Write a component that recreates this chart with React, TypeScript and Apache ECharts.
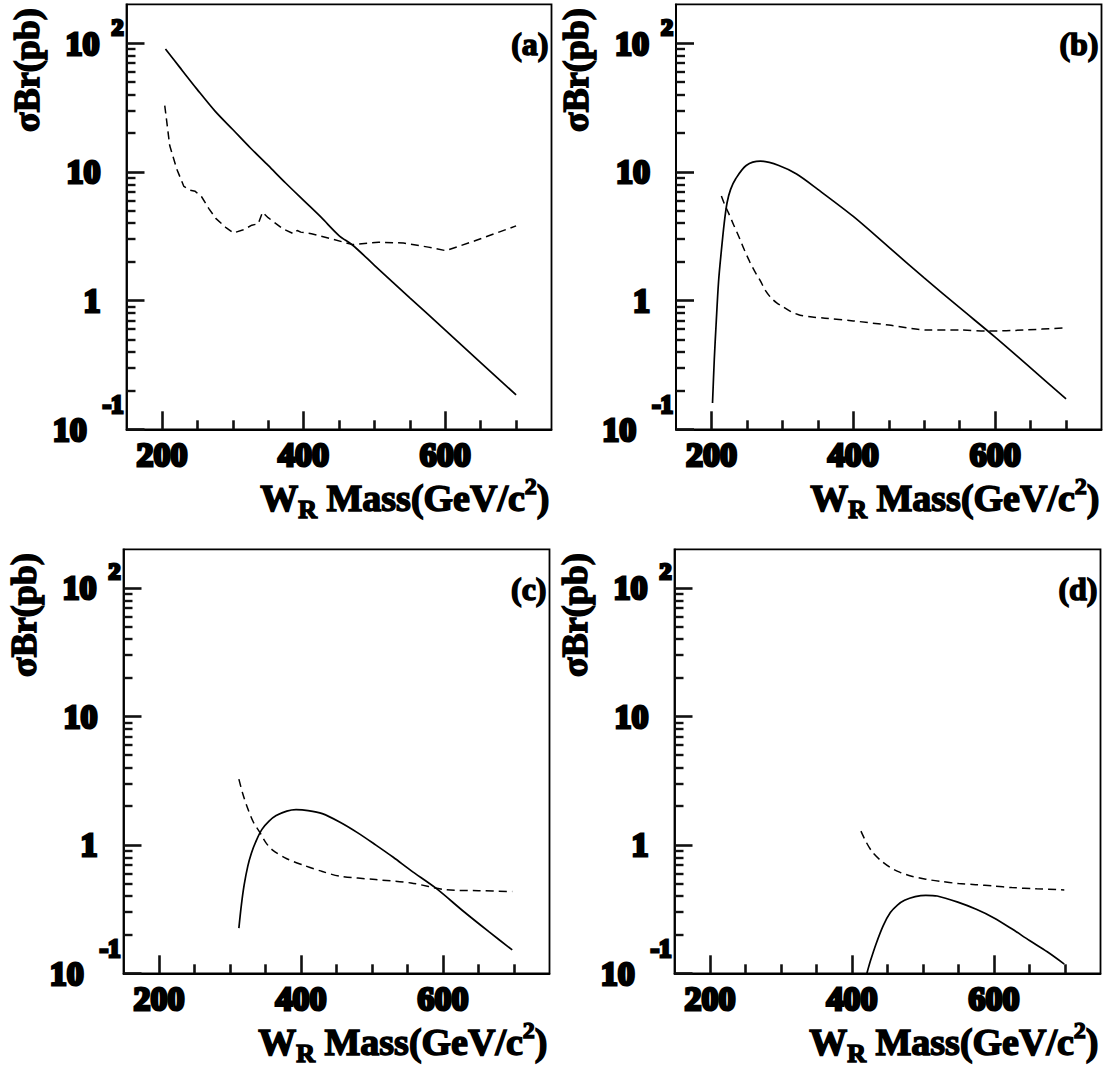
import React, { useEffect, useRef } from "react";
import * as echarts from "echarts";

// ---------- data ----------
const xMajorTicks = [200, 400, 600];
const xMinorTicks = [250, 300, 350, 450, 500, 550, 650, 700];
const yMajorTicks = [0.1, 1, 10, 100];
const yMinorTicks = [
  0.2, 0.3, 0.4, 0.5, 0.6, 0.7, 0.8, 0.9,
  2, 3, 4, 5, 6, 7, 8, 9,
  20, 30, 40, 50, 60, 70, 80, 90,
];
const panelLabels = ["(a)", "(b)", "(c)", "(d)"];
const yTitle = "σBr(pb)";

// panel (a)
const aSolidX = [205, 225, 250, 275, 300, 325, 350, 375, 400, 425, 450, 469, 500, 550, 600, 650, 700];
const aSolidY = [90, 65, 43.5, 29.6, 21.3, 15.3, 11.2, 8.15, 6.0, 4.42, 3.2, 2.7, 1.88, 1.05, 0.59, 0.33, 0.185];
const aDashX = [204, 211, 221, 231, 240, 247, 256, 266, 276, 290, 301, 315, 327, 336, 342, 350, 360, 371, 386, 391, 396, 411, 441, 469, 506, 541, 576, 601, 641, 700];
const aDashY = [32.7, 16, 10.5, 7.7, 7.2, 7.05, 6.4, 5.2, 4.35, 3.7, 3.35, 3.55, 3.85, 3.95, 4.85, 4.4, 4.0, 3.6, 3.3, 3.5, 3.4, 3.3, 3.0, 2.72, 2.84, 2.8, 2.6, 2.44, 2.9, 3.8];

// panel (b)
const bSolidX = [201.5, 204, 206.5, 210, 214, 218, 222, 227, 234, 249, 269, 295, 320, 350, 400, 450, 500, 550, 600, 650, 700];
const bSolidY = [0.16, 0.35, 0.645, 1.4, 2.45, 4.0, 5.75, 7.3, 8.8, 11.2, 12.1, 11.2, 9.6, 7.3, 4.5, 2.6, 1.5, 0.88, 0.52, 0.3, 0.172];
const bDashX = [214, 219, 224, 231, 239, 246, 254, 262, 269, 276, 284, 292, 300, 312, 325, 342, 360, 400, 450, 505, 550, 591, 640, 700];
const bDashY = [6.5, 5.5, 4.8, 3.9, 3.1, 2.5, 2.0, 1.65, 1.42, 1.2, 1.05, 0.96, 0.9, 0.82, 0.77, 0.745, 0.73, 0.695, 0.645, 0.59, 0.59, 0.58, 0.59, 0.615];

// panel (c)
const cSolidX = [312.5, 316, 320, 325, 330, 337, 345, 355, 365, 380, 393, 410, 430, 455, 480, 505, 530, 555, 590, 630, 665, 697.5];
const cSolidY = [0.225, 0.34, 0.49, 0.68, 0.857, 1.08, 1.32, 1.53, 1.69, 1.83, 1.88, 1.85, 1.75, 1.5, 1.24, 1.0, 0.8, 0.63, 0.46, 0.3, 0.21, 0.152];
const cDashX = [312.5, 318, 325, 333, 342.5, 350, 360, 380, 405, 430, 455, 505, 555, 605, 650, 697.5];
const cDashY = [3.25, 2.5, 1.92, 1.5, 1.24, 1.05, 0.91, 0.78, 0.69, 0.62, 0.57, 0.537, 0.505, 0.447, 0.44, 0.433];

// panel (d)
const dSolidX = [421, 426, 434, 444, 454, 464, 474, 489, 504, 520, 549, 575, 600, 625, 650, 675, 699];
const dSolidY = [0.1, 0.125, 0.17, 0.235, 0.297, 0.34, 0.37, 0.395, 0.405, 0.4, 0.358, 0.315, 0.27, 0.222, 0.18, 0.147, 0.118];
const dDashX = [412.6, 420, 428.6, 440, 453.8, 468, 484, 504, 524, 550, 574, 600, 625, 660, 699];
const dDashY = [1.28, 1.05, 0.88, 0.76, 0.667, 0.61, 0.57, 0.54, 0.52, 0.5, 0.49, 0.478, 0.465, 0.455, 0.446];

// ---------- layout / style ----------
const FONT = "Liberation Serif";
const grids = [
  { left: 126.5, top: 4.3, width: 425, height: 425 },
  { left: 676, top: 4.3, width: 425.5, height: 425 },
  { left: 123.5, top: 549.3, width: 426, height: 424 },
  { left: 674.5, top: 549.3, width: 426, height: 424 },
];

const panels = [
  { sx: aSolidX, sy: aSolidY, dx: aDashX, dy: aDashY, smoothDash: false },
  { sx: bSolidX, sy: bSolidY, dx: bDashX, dy: bDashY, smoothDash: true },
  { sx: cSolidX, sy: cSolidY, dx: cDashX, dy: cDashY, smoothDash: true },
  { sx: dSolidX, sy: dSolidY, dx: dDashX, dy: dDashY, smoothDash: true },
];

const zip = (xs: number[], ys: number[]) => xs.map((x, i) => [x, ys[i]]);

const yLabelFormatter = (v: number) => {
  const e = Math.round(Math.log10(v));
  if (e === 2) return "{n|10}{s2|2}";
  if (e === 1) return "{np|10}";
  if (e === 0) return "{np|1}";
  return "{n|10}{sm|-1}";
};

const heavy = { textBorderColor: "#000", textBorderWidth: 3 };
const numStyle = { fontSize: 34, fontWeight: "bold", fontFamily: FONT, color: "#000", ...heavy };
const supStyle = { fontWeight: "bold", fontFamily: FONT, color: "#000", ...heavy };
const TICK = "#111111";

function buildOption() {
  const xAxis: any[] = [];
  const yAxis: any[] = [];
  const series: any[] = [];
  const graphic: any[] = [];

  grids.forEach((g, i) => {
    xAxis.push({
      type: "value",
      gridIndex: i,
      position: "bottom",
      min: 150,
      max: 750,
      axisLine: { show: true, onZero: false, lineStyle: { color: "#000", width: 1.8 } },
      axisTick: { show: true, inside: true, length: 18, customValues: xMajorTicks, lineStyle: { color: TICK, width: 2.6 } },
      axisLabel: { show: true, customValues: xMajorTicks, margin: 8, ...numStyle },
      splitLine: { show: false },
    });
    xAxis.push({
      type: "value",
      gridIndex: i,
      position: "bottom",
      offset: 0,
      min: 150,
      max: 750,
      axisLine: { show: false, onZero: false },
      axisTick: { show: true, inside: true, length: 9, customValues: xMinorTicks, lineStyle: { color: TICK, width: 2.6 } },
      axisLabel: { show: false },
      splitLine: { show: false },
    });
    yAxis.push({
      type: "log",
      logBase: 10,
      gridIndex: i,
      position: "left",
      min: 0.1,
      max: 200,
      axisLine: { show: true, onZero: false, lineStyle: { color: "#000", width: 1.8 } },
      axisTick: { show: true, inside: true, length: 18, customValues: yMajorTicks, lineStyle: { color: TICK, width: 2.6 } },
      axisLabel: {
        show: true,
        customValues: yMajorTicks,
        margin: 3,
        formatter: yLabelFormatter,
        rich: {
          n: { ...numStyle },
          np: { ...numStyle, padding: [0, 23, 0, 0] },
          s2: { ...supStyle, fontSize: 24, padding: [0, 0, 33, 12] },
          sm: { ...supStyle, fontSize: 25, padding: [0, 0, 50, 16] },
        },
      },
      splitLine: { show: false },
    });
    yAxis.push({
      type: "log",
      logBase: 10,
      gridIndex: i,
      position: "left",
      offset: 0,
      min: 0.1,
      max: 200,
      axisLine: { show: false, onZero: false },
      axisTick: { show: true, inside: true, length: 9, customValues: yMinorTicks, lineStyle: { color: TICK, width: 2.4 } },
      axisLabel: { show: false },
      splitLine: { show: false },
    });

    const p = panels[i];
    series.push({
      type: "line",
      xAxisIndex: 2 * i,
      yAxisIndex: 2 * i,
      data: zip(p.sx, p.sy),
      symbol: "none",
      smooth: 0.3,
      clip: true,
      lineStyle: { color: "#000", width: 1.7, type: "solid" },
      z: 3,
    });
    series.push({
      type: "line",
      xAxisIndex: 2 * i,
      yAxisIndex: 2 * i,
      data: zip(p.dx, p.dy),
      symbol: "none",
      smooth: p.smoothDash ? 0.3 : false,
      clip: true,
      lineStyle: { color: "#000", width: 1.5, type: [8, 5] },
      z: 3,
    });
    series.push({
      type: "line",
      xAxisIndex: 2 * i + 1,
      yAxisIndex: 2 * i + 1,
      data: zip(p.sx, p.sy),
      symbol: "none",
      silent: true,
      clip: true,
      lineStyle: { opacity: 0, width: 0 },
      z: 1,
    });

    const right = g.left + g.width;
    const bottom = g.top + g.height;
    graphic.push({
      type: "text",
      x: right - 3,
      y: g.top + 40,
      style: {
        text: panelLabels[i],
        align: "right",
        verticalAlign: "middle",
        fontSize: 32,
        fontWeight: "bold",
        fontFamily: FONT,
        fill: "#000",
        stroke: "#000",
        lineWidth: 1.5,
      },
    });
    graphic.push({
      type: "text",
      x: g.left - 100,
      y: g.top + 4,
      rotation: Math.PI / 2,
      style: {
        text: yTitle,
        align: "right",
        verticalAlign: "middle",
        fontSize: 36,
        fontWeight: "bold",
        fontFamily: FONT,
        fill: "#000",
        stroke: "#000",
        lineWidth: 1.5,
      },
    });
    graphic.push({
      type: "text",
      x: right - 2,
      y: bottom + 69,
      style: {
        text: "{m|W}{r|R}{m| Mass(GeV/c}{p|2}{m|)}",
        align: "right",
        verticalAlign: "middle",
        fill: "#000",
        stroke: "#000",
        lineWidth: 1.5,
        rich: {
          m: { fontSize: 38, fontWeight: "bold", fontFamily: FONT, fill: "#000", stroke: "#000", lineWidth: 1.5 },
          r: { fontSize: 26, fontWeight: "bold", fontFamily: FONT, fill: "#000", stroke: "#000", lineWidth: 1.5, padding: [22, 0, 0, 0] },
          p: { fontSize: 24, fontWeight: "bold", fontFamily: FONT, fill: "#000", stroke: "#000", lineWidth: 1.5, padding: [0, 0, 24, 0] },
        },
      },
    });
  });

  return {
    animation: false,
    backgroundColor: "#fff",
    grid: grids.map((g) => ({
      ...g,
      show: true,
      borderColor: "#000",
      borderWidth: 1.8,
      backgroundColor: "transparent",
      containLabel: false,
    })),
    xAxis,
    yAxis,
    series,
    graphic,
  };
}

export default function App() {
  const ref = useRef<HTMLDivElement>(null);
  useEffect(() => {
    if (!ref.current) return;
    const chart = echarts.init(ref.current, undefined, { renderer: "svg" });
    chart.setOption(buildOption() as any);
    return () => chart.dispose();
  }, []);
  return (
    <div
      ref={ref}
      style={{ position: "absolute", left: 0, top: 0, width: 1105, height: 1067, background: "#fff" }}
    />
  );
}
